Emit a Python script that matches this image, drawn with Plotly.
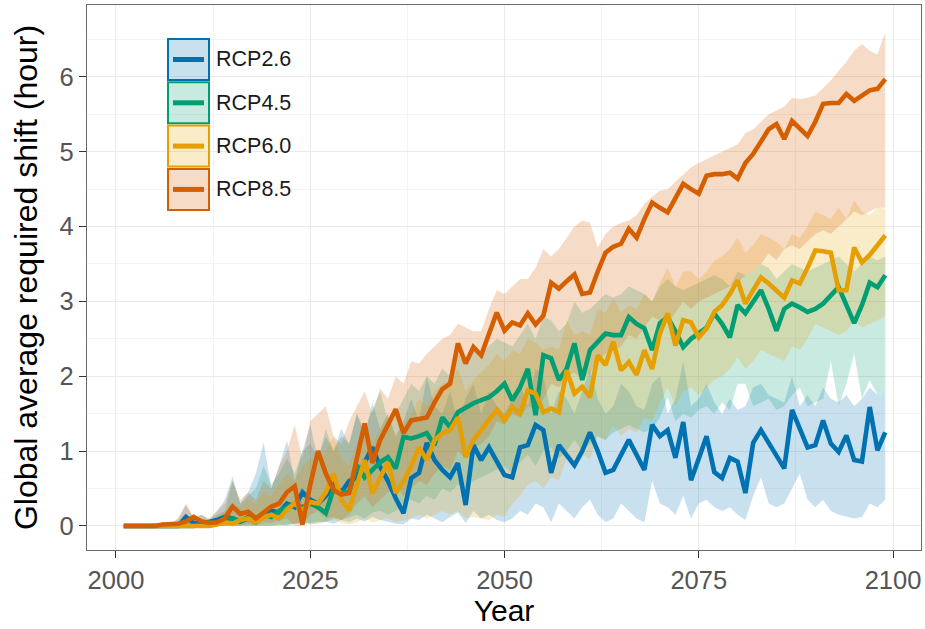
import plotly.graph_objects as go

# ---- data -----------------------------------------------------------------
years = list(range(2001, 2100))

scenarios = ["RCP2.6", "RCP4.5", "RCP6.0", "RCP8.5"]
colors = ["#0072B2", "#009E73", "#E69F00", "#D55E00"]
fills = ["rgba(0,114,178,0.21)", "rgba(0,158,115,0.21)",
         "rgba(230,159,0,0.21)", "rgba(213,94,0,0.22)"]

# ensemble mean of the required shift (hours), one value per year 2001-2099
rcp26_mean = [
    0, 0, 0, 0, 0, 0, 0, 0, 0.12, 0.04,
    0.03, 0.05, 0.08, 0.12, 0.1, 0.06, 0.1, 0.05, 0.15, 0.2,
    0.18, 0.3, 0.25, 0.45, 0.35, 0.3, 0.4, 0.55, 0.45, 0.6,
    0.65, 0.85, 1.05, 0.79, 0.6, 0.37, 0.17, 0.64, 0.71, 1.11,
    0.88, 0.75, 0.65, 0.84, 0.28, 1.08, 0.88, 1.05, 0.85, 0.68,
    0.65, 1.05, 1.08, 1.35, 1.28, 0.71, 1.08, 0.95, 0.81, 1.0,
    1.25, 1.0, 0.71, 0.75, 0.95, 1.15, 0.95, 0.75, 1.35, 1.2,
    1.28, 0.91, 1.39, 0.61, 0.9, 1.2, 0.72, 0.64, 0.91, 0.86,
    0.44, 1.11, 1.28, 1.1, 0.95, 0.77, 1.55, 1.3, 1.05, 1.08,
    1.41, 1.1, 0.99, 1.21, 0.88, 0.86, 1.59, 1.01, 1.25,
]
rcp45_mean = [
    0, 0, 0, 0, 0, 0, 0, 0, 0.01, 0,
    0.02, 0.05, 0.03, 0.08, 0.1, 0.06, 0.12, 0.1, 0.15, 0.12,
    0.2, 0.25, 0.3, 0.25, 0.3, 0.25, 0.17, 0.5, 0.45, 0.45,
    0.81, 0.65, 0.75, 0.85, 0.92, 0.77, 1.19, 1.17, 1.2, 1.24,
    1.08, 1.45, 1.32, 1.52, 1.58, 1.64, 1.68, 1.72, 1.8, 1.9,
    1.68, 1.85, 2.1, 1.48, 2.28, 2.24, 1.95, 2.1, 2.44, 1.95,
    2.35, 2.45, 2.57, 2.55, 2.55, 2.79, 2.7, 2.64, 2.35, 2.71,
    2.79, 2.6, 2.39, 2.5, 2.57, 2.65, 2.84, 2.7, 2.52, 2.95,
    2.84, 3.0, 3.15, 2.9, 2.61, 2.9, 2.97, 2.92, 2.86, 2.9,
    2.97, 3.08, 3.19, 2.95, 2.71, 2.95, 3.25, 3.19, 3.35,
]
rcp60_mean = [
    0, 0, 0, 0, 0, 0, 0, 0, 0, 0,
    0, 0, 0.02, 0.05, 0.03, 0.08, 0.1, 0.05, 0.12, 0.15,
    0.1, 0.22, 0.3, 0.21, 0.32, 0.3, 0.45, 0.7, 0.35, 0.21,
    0.55, 0.88, 0.44, 0.65, 0.85, 0.44, 0.6, 0.8, 1.05, 0.88,
    1.15, 1.24, 1.28, 1.45, 0.92, 1.15, 1.28, 1.41, 1.55, 1.41,
    1.59, 1.5, 1.81, 1.77, 1.52, 1.57, 1.52, 2.08, 1.77, 1.86,
    1.72, 2.28, 2.15, 2.46, 2.08, 2.19, 2.02, 2.35, 2.1, 2.57,
    2.84, 2.41, 2.75, 2.72, 2.52, 2.64, 2.86, 2.95, 3.1, 3.28,
    2.97, 3.15, 3.32, 3.24, 3.15, 3.05, 3.28, 3.24, 3.45, 3.68,
    3.67, 3.65, 3.15, 3.15, 3.72, 3.52, 3.62, 3.75, 3.88,
]
rcp85_mean = [
    0, 0, 0, 0, 0, 0.02, 0.03, 0.03, 0.06, 0.12,
    0.06, 0.04, 0.05, 0.1, 0.26, 0.16, 0.19, 0.1, 0.18, 0.26,
    0.3, 0.45, 0.53, 0.02, 0.55, 1.0, 0.7, 0.48, 0.42, 0.44,
    0.9, 1.37, 0.84, 1.15, 1.35, 1.56, 1.24, 1.41, 1.43, 1.45,
    1.65, 1.83, 1.9, 2.44, 2.17, 2.39, 2.28, 2.55, 2.85, 2.61,
    2.72, 2.68, 2.84, 2.69, 2.81, 3.25, 3.17, 3.27, 3.36, 3.1,
    3.12, 3.4, 3.65, 3.73, 3.77, 3.97, 3.85, 4.1, 4.32, 4.25,
    4.19, 4.38, 4.57, 4.5, 4.44, 4.68, 4.7, 4.7, 4.72, 4.64,
    4.85, 4.97, 5.15, 5.3, 5.37, 5.17, 5.41, 5.3, 5.21, 5.4,
    5.64, 5.65, 5.65, 5.77, 5.68, 5.75, 5.82, 5.84, 5.97,
]

# ensemble spread: lower and upper envelopes
rcp26_low = [
    0, 0, 0, 0, 0, 0, 0, 0, 0, 0,
    0, 0, 0, 0, 0, 0, 0, 0, 0, 0,
    0.02, 0.0, 0.03, 0.05, 0.02, 0.04, 0.06, 0.03, 0.08, 0.05,
    0.1, 0.06, 0.12, 0.08, 0.05, 0.03, 0.02, 0.1, 0.08, 0.15,
    0.1, 0.05, 0.12, 0.18, 0.04, 0.2, 0.1, 0.15, 0.08, 0.05,
    0.1, 0.2, 0.15, 0.3, 0.25, 0.05, 0.3, 0.2, 0.1, 0.25,
    0.35, 0.15, 0.05, 0.1, 0.3, 0.2, 0.1, 0.05, 0.6, 0.3,
    0.25, 0.15, 0.4, 0.1, 0.3, 0.35, 0.25, 0.2, 0.25, 0.15,
    0.08, 0.4, 0.65, 0.3, 0.25, 0.3, 0.5, 0.7, 0.35, 0.25,
    0.35, 0.2, 0.15, 0.12, 0.1, 0.12, 0.3, 0.25, 0.35,
]
rcp26_high = [
    0, 0, 0, 0, 0.02, 0.03, 0.02, 0.1, 0.28, 0.1,
    0.15, 0.08, 0.2, 0.35, 0.66, 0.3, 0.45, 0.7, 1.12, 0.5,
    0.8, 1.15, 0.6, 1.0, 1.35, 0.9, 1.2, 1.0, 1.3, 1.1,
    1.5, 1.2, 1.65, 1.3, 1.5, 1.2, 1.4, 1.7, 1.4, 2.0,
    1.6, 1.5, 1.8, 1.4, 1.7, 1.9, 1.5, 1.8, 1.6, 1.5,
    1.7, 1.9, 1.6, 2.1, 2.0, 1.5, 1.8, 1.7, 1.5, 1.8,
    2.1, 1.7, 1.5, 1.6, 1.9, 1.8, 1.6, 1.55, 1.9, 2.0,
    1.5, 1.7, 2.2, 1.6, 1.7, 1.9, 1.65, 1.5, 1.7, 1.55,
    1.6, 1.85, 1.9, 1.75, 1.7, 1.65, 2.0, 1.6, 1.75, 1.6,
    1.85, 1.7, 1.65, 1.75, 1.6, 1.7, 1.85, 1.75, 1.8,
]
rcp45_low = [
    0, 0, 0, 0, 0, 0, 0, 0, 0, 0,
    0, 0, 0, 0, 0, 0, 0, 0, 0, 0,
    0.01, 0.02, 0.03, 0.05, 0.04, 0.06, 0.05, 0.1, 0.08, 0.12,
    0.15, 0.1, 0.18, 0.2, 0.15, 0.2, 0.3, 0.35, 0.3, 0.4,
    0.35, 0.5, 0.45, 0.55, 0.5, 0.6, 0.65, 0.7, 0.75, 0.8,
    0.7, 0.85, 0.95, 0.8, 1.0, 1.05, 0.9, 1.0, 1.15, 1.0,
    1.1, 1.2, 1.15, 1.25, 1.3, 1.35, 1.3, 1.25, 1.3, 1.45,
    1.72, 1.4, 1.5, 1.45, 1.55, 1.6, 1.5, 1.65, 1.55, 1.9,
    1.9, 1.6, 1.65, 1.7, 1.55, 1.6, 1.75, 1.85, 1.6, 1.65,
    1.7, 2.2, 1.6, 1.9, 2.3, 1.7, 1.95, 1.75, 1.8,
]
rcp45_high = [
    0, 0, 0, 0, 0, 0.01, 0.02, 0.05, 0.1, 0.05,
    0.1, 0.08, 0.15, 0.2, 0.6, 0.3, 0.4, 0.5, 0.8, 0.55,
    0.7, 0.9, 0.7, 1.0, 1.1, 0.9, 1.3, 1.0, 1.2, 1.1,
    1.5, 1.3, 1.55, 1.8, 1.4, 1.5, 1.7, 1.9, 1.8, 2.0,
    1.9, 2.1, 2.0, 2.3, 2.2, 2.35, 2.3, 2.4, 2.5, 2.45,
    2.4, 2.55, 2.7, 2.5, 2.8, 2.75, 2.6, 2.7, 3.0, 2.85,
    2.9, 3.0, 3.1, 3.05, 3.1, 3.2, 3.15, 3.1, 3.0, 3.2,
    3.3, 3.2, 3.15, 3.2, 3.25, 3.3, 3.35, 3.3, 3.2, 3.4,
    3.35, 3.4, 3.5, 3.45, 3.3, 3.4, 3.5, 3.45, 3.4, 3.45,
    3.5, 3.55, 3.6, 3.5, 3.4, 3.5, 3.6, 3.55, 3.6,
]
rcp60_low = [
    0, 0, 0, 0, 0, 0, 0, 0, 0, 0,
    0, 0, 0, 0, 0, 0, 0, 0, 0, 0,
    0.0, 0.02, 0.03, 0.02, 0.04, 0.03, 0.05, 0.08, 0.04, 0.02,
    0.05, 0.1, 0.05, 0.08, 0.1, 0.05, 0.08, 0.1, 0.15, 0.1,
    0.15, 0.2, 0.15, 0.2, 0.1, 0.12, 0.1, 0.08, 0.15, 0.12,
    0.3, 0.4, 0.55, 0.6, 0.5, 0.65, 0.6, 0.9, 0.8, 0.95,
    0.9, 1.2, 1.15, 1.35, 1.2, 1.3, 1.25, 1.45, 1.4, 1.65,
    1.85, 1.6, 1.8, 1.85, 1.75, 1.85, 1.95, 2.0, 2.1, 2.25,
    2.1, 2.2, 2.35, 2.3, 2.25, 2.2, 2.4, 2.35, 2.5, 2.7,
    2.65, 2.6, 2.55, 2.6, 2.75, 2.65, 2.7, 2.75, 2.8,
]
rcp60_high = [
    0, 0, 0, 0, 0, 0, 0.02, 0.05, 0.03, 0.05,
    0.08, 0.05, 0.1, 0.2, 0.3, 0.25, 0.35, 0.3, 0.45, 0.4,
    0.55, 0.7, 0.6, 0.8, 0.9, 0.85, 1.0, 1.2, 0.9, 0.8,
    1.1, 1.4, 1.1, 1.3, 1.5, 1.2, 1.35, 1.5, 1.7, 1.6,
    1.8, 1.9, 1.95, 2.1, 1.8, 1.95, 2.05, 2.15, 2.3, 2.2,
    2.35, 2.3, 2.5, 2.45, 2.35, 2.4, 2.35, 2.75, 2.55, 2.6,
    2.55, 2.9, 2.85, 3.05, 2.85, 2.95, 2.9, 3.1, 3.0, 3.25,
    3.45, 3.2, 3.4, 3.4, 3.3, 3.4, 3.55, 3.6, 3.7, 3.85,
    3.65, 3.75, 3.9, 3.85, 3.8, 3.7, 3.9, 3.85, 4.0, 4.2,
    4.15, 4.1, 4.25, 4.1, 4.35, 4.2, 4.15, 4.25, 4.24,
]
rcp85_low = [
    0, 0, 0, 0, 0, 0, 0, 0, 0, 0,
    0, 0, 0, 0, 0.02, 0, 0.03, 0.01, 0.05, 0.04,
    0.08, 0.1, 0.0, 0.0, 0.15, 0.2, 0.1, 0.12, 0.08, 0.15,
    0.3, 0.4, 0.25, 0.35, 0.45, 0.55, 0.4, 0.5, 0.6, 0.55,
    0.7, 0.8, 0.75, 1.0, 0.9, 1.05, 1.1, 1.2, 1.4, 1.35,
    1.5, 1.45, 1.6, 1.55, 1.7, 1.9, 1.85, 2.0, 2.05, 1.95,
    2.05, 2.2, 2.3, 2.35, 2.4, 2.55, 2.5, 2.65, 2.8, 2.75,
    2.7, 2.85, 3.0, 2.9, 3.0, 3.05, 3.1, 3.15, 3.2, 3.25,
    3.35, 3.4, 3.5, 3.64, 3.55, 3.7, 3.75, 3.7, 3.8, 3.9,
    3.95, 3.9, 4.0, 4.1, 4.2, 4.15, 4.2, 4.25, 4.25,
]
rcp85_high = [
    0, 0, 0.01, 0, 0.02, 0.05, 0.03, 0.1, 0.3, 0.12,
    0.15, 0.1, 0.2, 0.3, 0.6, 0.35, 0.45, 0.35, 0.6, 0.5,
    0.8, 1.0, 1.35, 0.9, 1.4, 1.5, 1.6, 1.2, 1.1, 1.4,
    1.6, 1.8, 1.5, 1.84, 1.7, 2.0, 1.9, 2.2, 2.17, 2.3,
    2.4, 2.5, 2.55, 2.7, 2.65, 2.6, 2.6, 2.9, 3.15, 3.1,
    3.2, 3.3, 3.3, 3.45, 3.7, 3.6, 3.7, 3.85, 4.0, 4.08,
    4.05, 3.72, 3.9, 4.0, 4.05, 4.08, 4.15, 4.3, 4.4, 4.48,
    4.5, 4.6, 4.7, 4.79, 4.85, 4.9, 4.95, 5.01, 5.05, 5.1,
    5.25, 5.3, 5.4, 5.5, 5.55, 5.6, 5.72, 5.7, 5.72, 5.75,
    5.85, 5.95, 6.08, 6.2, 6.35, 6.44, 6.35, 6.3, 6.6,
]

x_ticks = [2000, 2025, 2050, 2075, 2100]
y_ticks = [0, 1, 2, 3, 4, 5, 6]

means = [rcp26_mean, rcp45_mean, rcp60_mean, rcp85_mean]
lows = [rcp26_low, rcp45_low, rcp60_low, rcp85_low]
highs = [rcp26_high, rcp45_high, rcp60_high, rcp85_high]

# ---- figure -----------------------------------------------------------------
W, H = 925, 629
M_L, M_R, M_T, M_B = 87, 4, 5, 79
PLOT_W, PLOT_H = W - M_L - M_R, H - M_T - M_B
FONT = "Arial, Liberation Sans, Helvetica, sans-serif"


def px(x):
    return (x - M_L) / PLOT_W


def py(y):
    return (H - M_B - y) / PLOT_H


fig = go.Figure()

# shaded envelopes first, so every mean line sits above all ribbons
for name, lo, hi, fc in zip(scenarios, lows, highs, fills):
    fig.add_trace(go.Scatter(x=years, y=hi, mode="lines", line=dict(width=0),
                             hoverinfo="skip", showlegend=False))
    fig.add_trace(go.Scatter(x=years, y=lo, mode="lines", line=dict(width=0),
                             fill="tonexty", fillcolor=fc,
                             hoverinfo="skip", showlegend=False))

for name, m, c in zip(scenarios, means, colors):
    fig.add_trace(go.Scatter(x=years, y=m, mode="lines", name=name,
                             line=dict(color=c, width=4.6), showlegend=False))

# legend keys drawn inside the panel
shapes = []
annotations = []
key_top, key_step, key_size = 39, 43.3, 41
for i, (name, c, fc) in enumerate(zip(scenarios, colors, fills)):
    t = key_top + i * key_step
    b = t + key_size
    mid = (t + b) / 2
    shapes.append(dict(type="rect", xref="paper", yref="paper",
                       x0=px(168), x1=px(209), y0=py(b), y1=py(t),
                       fillcolor=fc, line=dict(color=c, width=2)))
    shapes.append(dict(type="line", xref="paper", yref="paper",
                       x0=px(173), x1=px(204), y0=py(mid), y1=py(mid),
                       line=dict(color=c, width=5)))
    annotations.append(dict(xref="paper", yref="paper", x=px(214), y=py(mid),
                            text=name, showarrow=False, xanchor="left",
                            yanchor="middle",
                            font=dict(family=FONT, size=21.5, color="#1a1a1a")))

grid_major = "#EAEAEA"
grid_minor = "#F3F3F3"
axis_line = "#6a6a6a"

fig.update_layout(
    width=W, height=H,
    margin=dict(l=M_L, r=M_R, t=M_T, b=M_B),
    paper_bgcolor="white", plot_bgcolor="white",
    font=dict(family=FONT),
    shapes=shapes, annotations=annotations,
    xaxis=dict(
        range=[1996.27, 2103.6],
        tickmode="array", tickvals=x_ticks, ticktext=[str(v) for v in x_ticks],
        ticks="outside", ticklen=7, tickwidth=1.3, tickcolor="#333333",
        tickfont=dict(size=25.5, color="#555555", family=FONT),
        showgrid=True, gridcolor=grid_major, gridwidth=1.4,
        minor=dict(tickmode="array", tickvals=[2012.5, 2037.5, 2062.5, 2087.5],
                   showgrid=True, gridcolor=grid_minor, gridwidth=0.8, ticklen=0),
        showline=True, mirror=True, linecolor=axis_line, linewidth=1.3,
        zeroline=False,
        title=dict(text="Year", font=dict(size=30, color="black", family=FONT),
                   standoff=6),
    ),
    yaxis=dict(
        range=[-0.321, 6.96],
        tickmode="array", tickvals=y_ticks, ticktext=[str(v) for v in y_ticks],
        ticks="outside", ticklen=7, tickwidth=1.3, tickcolor="#333333",
        tickfont=dict(size=25.5, color="#555555", family=FONT),
        showgrid=True, gridcolor=grid_major, gridwidth=1.4,
        minor=dict(tickmode="array",
                   tickvals=[0.5, 1.5, 2.5, 3.5, 4.5, 5.5, 6.5],
                   showgrid=True, gridcolor=grid_minor, gridwidth=0.8, ticklen=0),
        showline=True, mirror=True, linecolor=axis_line, linewidth=1.3,
        zeroline=False,
        title=dict(text="Global average required shift (hour)",
                   font=dict(size=32, color="black", family=FONT), standoff=12),
    ),
)

fig.write_html("out.html")
